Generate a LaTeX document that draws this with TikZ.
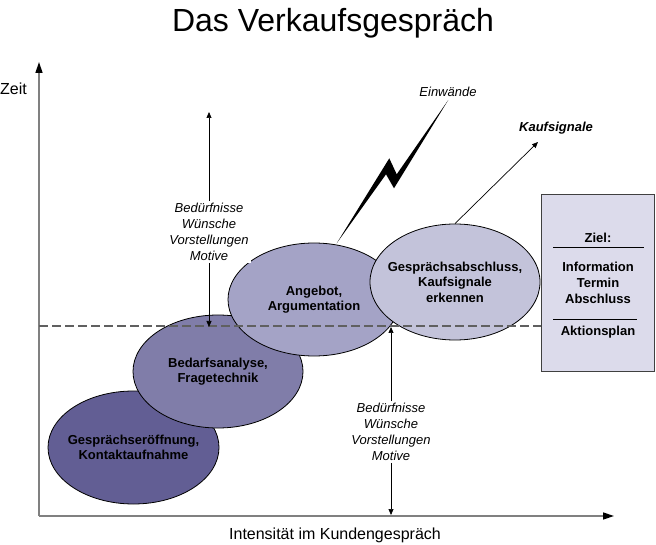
\documentclass[tikz,border=0pt]{standalone}
\usepackage{fontspec}
\setmainfont{Liberation Sans}
\usetikzlibrary{shapes.geometric,arrows.meta}
\definecolor{cA}{HTML}{625E94}
\definecolor{cB}{HTML}{807DA9}
\definecolor{cC}{HTML}{A4A3C6}
\definecolor{cD}{HTML}{C3C3DA}
\definecolor{boxfill}{HTML}{DCDBEB}
\definecolor{axisgray}{HTML}{808080}
\definecolor{dashgray}{HTML}{606060}
\begin{document}
\begin{tikzpicture}[x=1pt,y=-1pt,
  ell/.style={ellipse,draw=black,line width=0.8pt,inner sep=0pt},
  etext/.style={font=\fontsize{13}{15.5}\selectfont\bfseries,align=center,inner sep=0pt},
  itext/.style={font=\fontsize{13}{16}\selectfont\itshape,align=center,inner sep=2pt},
  btext/.style={font=\fontsize{13}{16}\selectfont\bfseries,align=center,inner sep=0pt},
  axis/.style={draw=axisgray,line width=1.5pt,-{Triangle[length=11pt,width=7pt,color=black]}},
  thinarrow/.style={line width=0.7pt,-{Triangle[length=6pt,width=5pt]}},
  dashline/.style={draw=dashgray,line width=1.8pt,dash pattern=on 9pt off 4pt},
]
\useasboundingbox (0,0) rectangle (656,545);

% title
\node[font=\fontsize{32}{38}\selectfont] (title) at (333,23) {Das Verkaufsgespräch};

% axes
\coordinate (O) at (39,516);
\coordinate (ytip) at (39,62);
\coordinate (xtip) at (614,516);
\draw[axis] (O) -- (ytip);
\draw[axis] (O) -- (xtip);
\node[font=\fontsize{16}{19}\selectfont,anchor=west,inner sep=0pt] (zeit) at (0,89) {Zeit};
\node[font=\fontsize{16}{19}\selectfont,inner sep=0pt] (xlab) at (335,535) {Intensität im Kundengespräch};

% ellipses
\node[ell,fill=cA,minimum width=171pt,minimum height=113pt] (e1) at (133.5,447.5) {};
\node[etext] at (e1) {Gesprächseröffnung,\\Kontaktaufnahme};
\node[ell,fill=cB,minimum width=170pt,minimum height=113pt] (e2) at (218,371.5) {};
\node[etext] at (e2) {Bedarfsanalyse,\\Fragetechnik};
\node[ell,fill=cC,minimum width=172pt,minimum height=113pt] (e3) at (314,299.5) {};
\node[etext] at (e3) {Angebot,\\Argumentation};
\node[ell,fill=cD,minimum width=170pt,minimum height=116pt] (e4) at (455,282) {};
\node[etext] at (e4) {Gesprächsabschluss,\\Kaufsignale\\erkennen};

% goal box
\node[draw=black!75,line width=0.8pt,fill=boxfill,minimum width=113pt,minimum height=177pt,anchor=north west,inner sep=0pt] (box) at (541,194) {};
\node[btext] (ziel) at (598,238) {Ziel:};
\node[btext] (info) at (598,283) {Information\\Termin\\Abschluss};
\node[btext] (akt) at (598,332) {Aktionsplan};
\coordinate (l1a) at (553,247); \coordinate (l1b) at (644,247);
\coordinate (l2a) at (553,319); \coordinate (l2b) at (637,319);
\draw[line width=0.8pt] (l1a) -- (l1b);
\draw[line width=0.8pt] (l2a) -- (l2b);

% dashed level line
\coordinate (dl1) at (39,326);
\draw[dashline] (dl1) -- (box.west |- dl1);

% arrow 1
\node[itext,fill=white] (n1) at (209,232) {Bedürfnisse\\Wünsche\\Vorstellungen\\Motive};
\coordinate (n1top) at (209,112);
\coordinate (n1bot) at (209,327);
\draw[thinarrow] (n1) -- (n1top);
\draw[thinarrow] (n1) -- (n1bot);

% arrow 2
\node[itext,fill=white] (n2) at (391,432) {Bedürfnisse\\Wünsche\\Vorstellungen\\Motive};
\coordinate (n2top) at (391,327);
\coordinate (n2bot) at (391,515);
\draw[thinarrow] (n2) -- (n2top);
\draw[thinarrow] (n2) -- (n2bot);

% Kaufsignale
\node[font=\fontsize{13}{16}\selectfont\bfseries\itshape,inner sep=0pt] (ks) at (556,128) {Kaufsignale};
\coordinate (kstip) at (538,142);
\draw[thinarrow] (e4.north) -- (kstip);

% Einwände + lightning
\node[font=\fontsize{13}{16}\selectfont\itshape,inner sep=0pt] (ein) at (448,92) {Einwände};
\fill[black] (336.7,243.3) -- (389.3,158.3) -- (396.7,174.3) -- (448.3,100) -- (394,188.3) -- (386,174.3) -- cycle;
\end{tikzpicture}
\end{document}
